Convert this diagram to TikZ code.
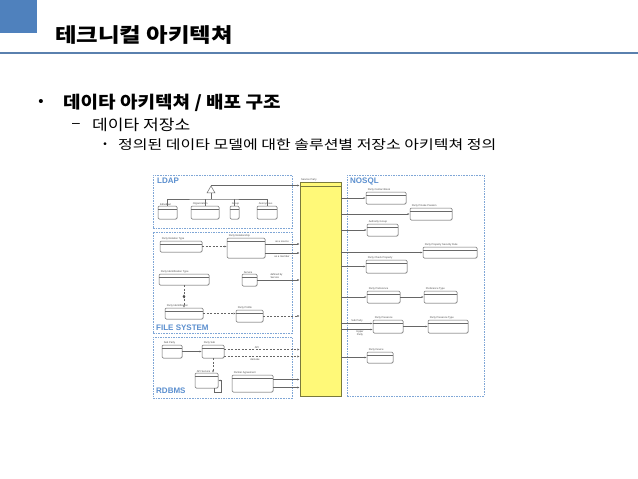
\documentclass[tikz,border=0pt]{standalone}
\usepackage{fontspec}
\setmainfont{Liberation Sans}
\newfontfamily\kr{Noto Sans CJK KR}
\usetikzlibrary{fit,shapes.geometric,arrows.meta,shadows}
\definecolor{hdrblue}{HTML}{4F81BD}
\definecolor{linblue}{HTML}{5A80AE}
\definecolor{zone}{HTML}{7FA6D6}
\definecolor{zonetxt}{HTML}{5B8FCF}
\definecolor{yel}{HTML}{FFF978}
\definecolor{yelborder}{HTML}{7A7A3C}
\definecolor{entc}{HTML}{6A6A6A}
\tikzset{
 zonebox/.style={draw=zone, line width=0.9pt, dash pattern=on 1.6pt off 1pt, inner sep=0},
 zonelbl/.style={text=zonetxt, font=\bfseries\fontsize{8}{9}\selectfont, inner sep=0},
 entbox/.style={draw=entc, fill=white, rounded corners=1.2pt, line width=0.5pt, inner sep=0,
   drop shadow={opacity=0.25, shadow xshift=0.6pt, shadow yshift=-0.6pt}},
 tinytxt/.style={font=\fontsize{2.6}{3}\selectfont, inner sep=0.3pt, text=black!70},
 conn/.style={draw=black!60, line width=0.45pt, -{Latex[length=2.2pt,width=2pt]}},
 dconn/.style={conn, dash pattern=on 2pt off 1.5pt},
 plainln/.style={draw=entc, line width=0.45pt},
 krtxt/.style={inner sep=0, anchor=west},
}
\newcommand\entity[6]{%
 \node[entbox, fit={(#2,#3) (#4,#5)}] (#1) {};
 \draw[entc, line width=0.4pt] ([yshift=-3.5pt]#1.north west) -- ([yshift=-3.5pt]#1.north east);
 \node[tinytxt, anchor=south west] (#1-l) at ([xshift=1.5pt]#1.north west) {#6};
}
\begin{document}
\begin{tikzpicture}[x=1pt,y=-1pt]
\useasboundingbox (0,0) rectangle (638,479);
\fill[white] (0,0) rectangle (638,479);
% header
\fill[hdrblue] (0,0) rectangle (37,33);
\draw[linblue, line width=2.2pt] (0,53) -- (638,53);
\node[krtxt, font=\kr\bfseries\fontsize{20}{24}\selectfont] (title) at (55,35) {\scalebox{1.17}[1]{테크니컬 아키텍쳐}};
% bullets
\node[inner sep=0, font=\fontsize{15}{18}\selectfont] (b1) at (41,103) {•};
\node[krtxt, font=\kr\bfseries\fontsize{17}{20}\selectfont] (t1) at (63,103) {\scalebox{1.12}[1]{데이타 아키텍쳐 / 배포 구조}};
\node[inner sep=0, font=\fontsize{14}{16}\selectfont] (b2) at (76,125) {–};
\node[krtxt, font=\kr\fontsize{15}{18}\selectfont] (t2) at (92,125) {\scalebox{1.14}[1]{데이타 저장소}};
\node[inner sep=0, font=\fontsize{10}{12}\selectfont] (b3) at (105,145) {•};
\node[krtxt, font=\kr\fontsize{13}{15}\selectfont] (t3) at (118,145) {\scalebox{1.23}[1]{정의된 데이타 모델에 대한 솔루션별 저장소 아키텍쳐 정의}};
% zones
\node[zonebox, fit={(153,175) (292,228)}] (ldap) {};
\node[zonelbl, anchor=north west] (ldapl) at (157,178) {LDAP};
\node[zonebox, fit={(153,232) (292,333)}] (fs) {};
\node[zonelbl, anchor=south west] (fsl) at (156,331) {FILE SYSTEM};
\node[zonebox, fit={(153,337) (292,398)}] (rdb) {};
\node[zonelbl, anchor=south west] (rdbl) at (156,394) {RDBMS};
\node[zonebox, fit={(347,175) (484,396)}] (nosql) {};
\node[zonelbl, anchor=north west] (nosqll) at (350,178) {NOSQL};
% service party
\node[fit={(300,182) (341,396)}, fill=yel, draw=yelborder, line width=0.7pt, inner sep=0,
  drop shadow={opacity=0.25, shadow xshift=0.8pt, shadow yshift=-0.8pt}] (sp) {};
\draw[yelborder, line width=0.5pt] ([yshift=-5pt]sp.north west) -- ([yshift=-5pt]sp.north east);
\node[tinytxt, anchor=south west] (spl) at ([xshift=1pt]sp.north west) {Service Party};
% LDAP
\entity{ind}{158}{206}{177}{219}{Individual}
\entity{org}{191}{206}{219}{219}{Organization}
\entity{grp}{230}{206}{239}{219}{Group}
\entity{anon}{257}{206}{277}{219}{Anonymous}
\node[draw=entc, fill=white, regular polygon, regular polygon sides=3, minimum size=9pt, inner sep=0, line width=0.5pt] (inh) at (211,190.5) {};
\coordinate (jn) at (211,199);
\draw[plainln] (inh.south) -- (jn);
\draw[plainln] (ind.north) |- (jn) -| (anon.north);
\draw[plainln] (org.north) -- (org.north |- jn);
\draw[plainln] (grp.north) -- (grp.north |- jn);
\draw[conn] (inh.north) -- (inh.north -| sp.west);
% FILE SYSTEM
\entity{prt}{160}{241}{202}{252}{Party Relation Type}
\entity{prl}{227}{238}{265}{258}{Party Relationship}
\draw[dconn] (prt.east) -- (prt.east -| prl.west);
\draw[conn] ([yshift=4pt]prl.east) -- ([yshift=4pt]prl.east -| sp.west);
\draw[conn] ([yshift=-5pt]prl.east) -- ([yshift=-5pt]prl.east -| sp.west);
\node[tinytxt, anchor=south] (asrc) at (282,243) {as a source};
\node[tinytxt, anchor=north] (amem) at (282,255) {as a member};
\entity{pit}{159}{274}{209}{285}{Party Identification Type}
\entity{svc}{242}{274}{257}{286}{Service}
\draw[conn] (svc.east) -- (svc.east -| sp.west);
\node[tinytxt, align=left, anchor=south west] (defby) at (270,279) {defined by\\Service};
\entity{pid}{165}{308}{203}{319}{Party Identification}
\draw[dconn] (pit.south) -- node[diamond, fill=black!70, inner sep=0, minimum width=3pt, minimum height=4pt] (dm) {} (pit.south |- pid.north);
\entity{ppf}{236}{310}{263}{322}{Party Profile}
\draw[dconn] (pid.east) -- (pid.east -| ppf.west);
\draw[dconn] (ppf.east) -- (ppf.east -| sp.west);
% RDBMS
\entity{subp}{162}{345}{182}{358}{Sub Party}
\entity{psub}{202}{345}{224}{358}{Party Sub}
\draw[conn] (subp.east) -- (psub.west);
\draw[dconn] ([yshift=2pt]psub.east) -- ([yshift=2pt]psub.east -| sp.west);
\draw[dconn] ([yshift=-5pt]psub.east) -- ([yshift=-5pt]psub.east -| sp.west);
\node[tinytxt, anchor=south] (api) at (257,349) {API};
\node[tinytxt, anchor=north] (deriv) at (255,358) {derivate};
\entity{apis}{195}{373}{218}{388}{API Service}
\draw[dconn] (psub.south) -- (psub.south |- apis.north);
\draw[conn] ([xshift=-4pt]apis.south east) -- ++(0,4) -- ++(7,0) |- (apis.east);
\entity{pa}{232}{375}{273}{392}{Partner Agreement}
\draw[conn] ([yshift=4pt]pa.east) -- ([yshift=4pt]pa.east -| sp.west);
\draw[conn] ([yshift=-4pt]pa.east) -- ([yshift=-4pt]pa.east -| sp.west);
% NOSQL
\entity{pcb}{366}{192}{406}{204}{Party Contact Book}
\entity{ppp}{410}{208}{452}{220}{Party Private Passion}
\entity{ag}{367}{224}{398}{236}{Authority Group}
\entity{ppsr}{423}{247}{477}{258}{Party Property Security Rule}
\entity{pcp}{366}{260}{407}{273}{Party Check Property}
\entity{ppr}{367}{291}{400}{303}{Party Preference}
\entity{preft}{424}{291}{457}{303}{Preference Type}
\entity{pps}{373}{320}{403}{333}{Party Presence}
\entity{ppt}{428}{320}{468}{333}{Party Presence Type}
\entity{pdv}{367}{352}{393}{363}{Party Device}
\foreach \n in {pcb,ppp,ag,ppsr,pcp,ppr,pdv}{
  \draw[conn] (\n.west -| sp.east) -- (\n.west);
}
\draw[conn] (ppr.east) -- (preft.west);
\draw[conn] ([yshift=3pt]pps.west -| sp.east) -- ([yshift=3pt]pps.west);
\draw[conn] ([yshift=-3pt]pps.west -| sp.east) -- ([yshift=-3pt]pps.west);
\node[tinytxt, anchor=south] (subl) at (357,323) {Sub Party};
\node[tinytxt, anchor=north, align=center] (uppl) at (360,330) {Upper\\Party};
\draw[conn] (pps.east) -- (ppt.west);
\end{tikzpicture}
\end{document}
